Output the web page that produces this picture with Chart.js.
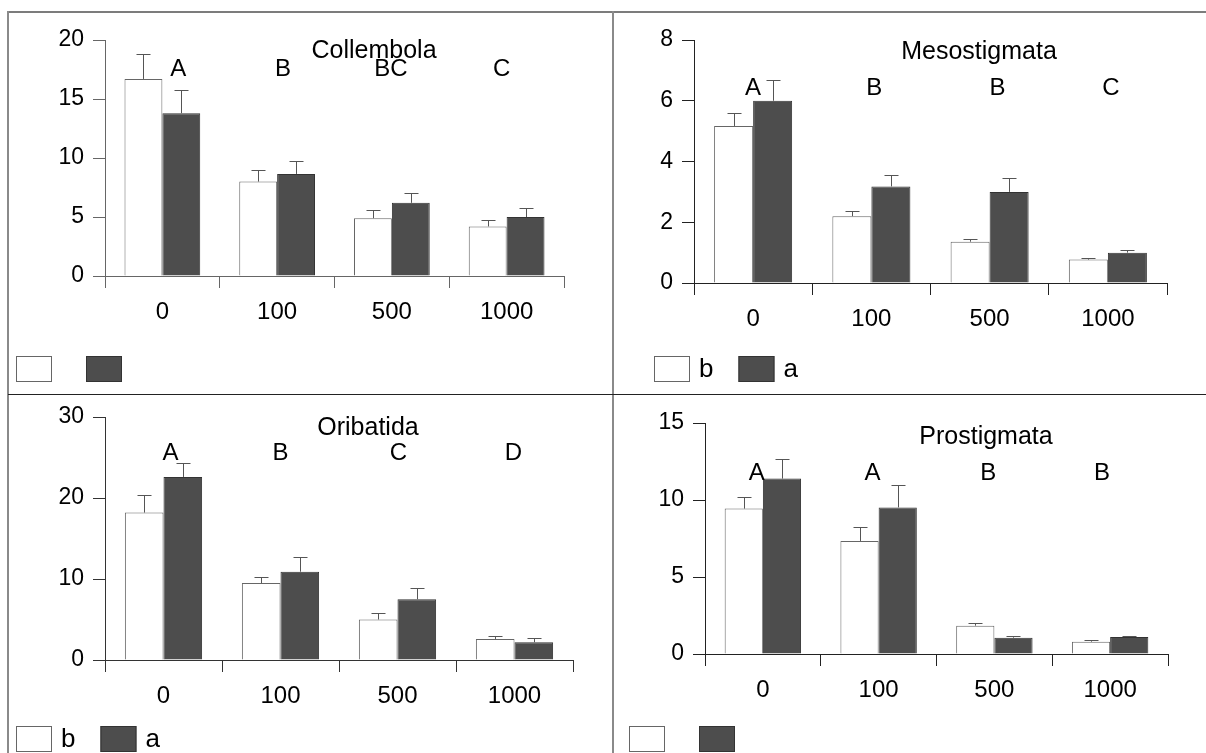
<!DOCTYPE html>
<html>
<head>
<meta charset="utf-8">
<title>Soil fauna</title>
<script src="https://cdn.jsdelivr.net/npm/chart.js@4.4.0/dist/chart.umd.min.js"></script>
<style>
  html, body { margin: 0; padding: 0; background: #fff; }
  #page { position: relative; width: 1206px; height: 753px; overflow: hidden; background: #fff; }
  #page canvas { position: absolute; left: 0; top: 0; }
  .rule { position: absolute; }
</style>
</head>
<body>
<div id="page">
  <div class="rule" style="left:8px;top:11px;width:1198px;height:2px;background:#7c7c7c"></div>
  <div class="rule" style="left:7px;top:11px;width:2px;height:742px;background:#8a8a8a"></div>
  <div class="rule" style="left:612px;top:11px;width:2px;height:742px;background:#8a8a8a"></div>
  <div class="rule" style="left:8px;top:394px;width:1198px;height:1px;background:#222"></div>
</div>
<script>
// dose levels on the x axis, shared by all four panels
const doses = ['0', '100', '500', '1000'];
const seriesNames = ['b', 'a'];
const noNames = ['', ''];

// Collembola
const collembolaB = [16.7, 8.0, 4.9, 4.2];
const collembolaBErr = [2.1, 1.0, 0.7, 0.55];
const collembolaA = [13.8, 8.65, 6.2, 5.0];
const collembolaAErr = [2.0, 1.1, 0.85, 0.75];
const collembolaGroups = ['A', 'B', 'BC', 'C'];

// Mesostigmata
const mesoB = [5.17, 2.2, 1.36, 0.77];
const mesoBErr = [0.42, 0.18, 0.09, 0.05];
const mesoA = [6.0, 3.18, 3.0, 1.0];
const mesoAErr = [0.68, 0.38, 0.46, 0.1];
const mesoGroups = ['A', 'B', 'B', 'C'];

// Oribatida
const oribB = [18.2, 9.5, 5.0, 2.6];
const oribBErr = [2.2, 0.8, 0.8, 0.4];
const oribA = [22.6, 10.9, 7.5, 2.2];
const oribAErr = [1.7, 1.76, 1.4, 0.57];
const oribGroups = ['A', 'B', 'C', 'D'];

// Prostigmata
const prostB = [9.44, 7.34, 1.84, 0.8];
const prostBErr = [0.78, 0.9, 0.17, 0.09];
const prostA = [11.39, 9.52, 1.06, 1.1];
const prostAErr = [1.3, 1.45, 0.13, 0.09];
const prostGroups = ['A', 'A', 'B', 'B'];

// y-axis tick settings
const collembolaTicks = { max: 20, step: 5 };
const mesoTicks = { max: 8, step: 2 };
const oribTicks = { max: 30, step: 10 };
const prostTicks = { max: 15, step: 5 };

const PAGE_W = 1206, PAGE_H = 753;
const Y_AXIS_W = 60, X_AXIS_H = 50;
const FONT = 'Liberation Sans, Arial, Helvetica, sans-serif';
const DARK = '#4d4d4d';
const CAP = 7;

const errorBars = {
  id: 'errorBars',
  afterDatasetsDraw(chart) {
    const ctx = chart.ctx, y = chart.scales.y;
    ctx.save();
    ctx.lineWidth = 1;
    ctx.strokeStyle = '#555';
    chart.data.datasets.forEach((ds, i) => {
      chart.getDatasetMeta(i).data.forEach((bar, j) => {
        const x = Math.round(bar.x) + 0.5;
        const top = Math.round(y.getPixelForValue(ds.data[j] + ds.err[j])) + 0.5;
        ctx.beginPath();
        ctx.moveTo(x, bar.y);
        ctx.lineTo(x, top);
        ctx.moveTo(x - CAP, top);
        ctx.lineTo(x + CAP, top);
        ctx.stroke();
      });
    });
    ctx.restore();
  }
};

// title, group letters and the little box legend under each panel
const panelText = {
  id: 'panelText',
  afterDraw(chart, args, o) {
    const ctx = chart.ctx, x = chart.scales.x;
    ctx.save();
    ctx.fillStyle = '#000';
    ctx.textBaseline = 'middle';
    ctx.textAlign = 'center';
    ctx.font = '25px ' + FONT;
    ctx.fillText(o.title, o.titleX, o.titleY);
    ctx.font = '24px ' + FONT;
    o.groups.forEach((g, j) => {
      ctx.fillText(g, x.getPixelForValue(j) + o.groupShift[j], o.groupsY);
    });

    ctx.textAlign = 'left';
    ctx.font = '26px ' + FONT;
    let lx = o.legendX;
    chart.data.datasets.forEach(ds => {
      ctx.fillStyle = ds.backgroundColor;
      ctx.fillRect(lx, o.legendY, 36, 26);
      ctx.strokeStyle = ds.borderColor;
      ctx.lineWidth = 1;
      ctx.strokeRect(lx + 0.5, o.legendY + 0.5, 35, 25);
      lx += 36 + 9;
      ctx.fillStyle = '#000';
      ctx.fillText(ds.label, lx, o.legendY + 14);
      lx += ctx.measureText(ds.label).width + 25;
    });
    ctx.restore();
  }
};

function makePanel(p) {
  const canvas = document.createElement('canvas');
  canvas.width = PAGE_W;
  canvas.height = PAGE_H;
  document.getElementById('page').appendChild(canvas);
  return new Chart(canvas, {
    type: 'bar',
    data: {
      labels: doses,
      datasets: [
        { label: p.names[0], data: p.b, err: p.bErr, backgroundColor: '#fff', borderColor: '#666', borderWidth: 1 },
        { label: p.names[1], data: p.a, err: p.aErr, backgroundColor: DARK, borderColor: '#333', borderWidth: 1 }
      ]
    },
    options: {
      responsive: false,
      animation: false,
      devicePixelRatio: 1,
      categoryPercentage: 0.66,
      barPercentage: 1,
      layout: {
        padding: {
          left: p.axisX - Y_AXIS_W,
          right: PAGE_W - p.xEnd,
          top: p.top,
          bottom: PAGE_H - p.zero - X_AXIS_H
        }
      },
      plugins: {
        legend: { display: false },
        tooltip: { enabled: false },
        panelText: {
          title: p.title, titleX: p.titleX, titleY: p.titleY,
          groups: p.groups, groupShift: p.groupShift, groupsY: p.groupsY,
          legendX: p.legendX, legendY: p.legendY
        }
      },
      scales: {
        x: {
          grid: { drawOnChartArea: false, drawTicks: true, tickLength: 12, color: p.axisColor, lineWidth: 1 },
          border: { display: true, color: p.axisColor, width: 1 },
          ticks: { font: { family: FONT, size: 24 }, color: '#000', padding: 10, maxRotation: 0 },
          afterFit: s => { s.height = X_AXIS_H; }
        },
        y: {
          min: 0,
          max: p.ticks.max,
          ticks: { stepSize: p.ticks.step, font: { family: FONT, size: 23 }, color: '#000', padding: 9 },
          grid: { drawOnChartArea: false, drawTicks: true, tickLength: 12, color: p.axisColor, lineWidth: 1 },
          border: { display: true, color: p.axisColor, width: 1 },
          afterFit: s => { s.width = Y_AXIS_W; }
        }
      }
    },
    plugins: [errorBars, panelText]
  });
}

makePanel({
  title: 'Collembola', titleX: 374, titleY: 51,
  groups: collembolaGroups, groupShift: [16, 6, -1, -5], groupsY: 69,
  b: collembolaB, bErr: collembolaBErr, a: collembolaA, aErr: collembolaAErr,
  names: noNames, ticks: collembolaTicks,
  axisX: 105, xEnd: 564, top: 40, zero: 276,
  legendX: 16, legendY: 356, axisColor: '#666'
});

makePanel({
  title: 'Mesostigmata', titleX: 979, titleY: 52,
  groups: mesoGroups, groupShift: [0, 3, 8, 3], groupsY: 88,
  b: mesoB, bErr: mesoBErr, a: mesoA, aErr: mesoAErr,
  names: seriesNames, ticks: mesoTicks,
  axisX: 694, xEnd: 1167, top: 40, zero: 283,
  legendX: 654, legendY: 356, axisColor: '#222'
});

makePanel({
  title: 'Oribatida', titleX: 368, titleY: 428,
  groups: oribGroups, groupShift: [7, 0, 1, -1], groupsY: 453,
  b: oribB, bErr: oribBErr, a: oribA, aErr: oribAErr,
  names: seriesNames, ticks: oribTicks,
  axisX: 105, xEnd: 573, top: 417, zero: 660,
  legendX: 16, legendY: 726, axisColor: '#333'
});

makePanel({
  title: 'Prostigmata', titleX: 986, titleY: 437,
  groups: prostGroups, groupShift: [-6, -6, -6, -8], groupsY: 473,
  b: prostB, bErr: prostBErr, a: prostA, aErr: prostAErr,
  names: noNames, ticks: prostTicks,
  axisX: 705, xEnd: 1168, top: 423, zero: 654,
  legendX: 629, legendY: 726, axisColor: '#222'
});
</script>
</body>
</html>
